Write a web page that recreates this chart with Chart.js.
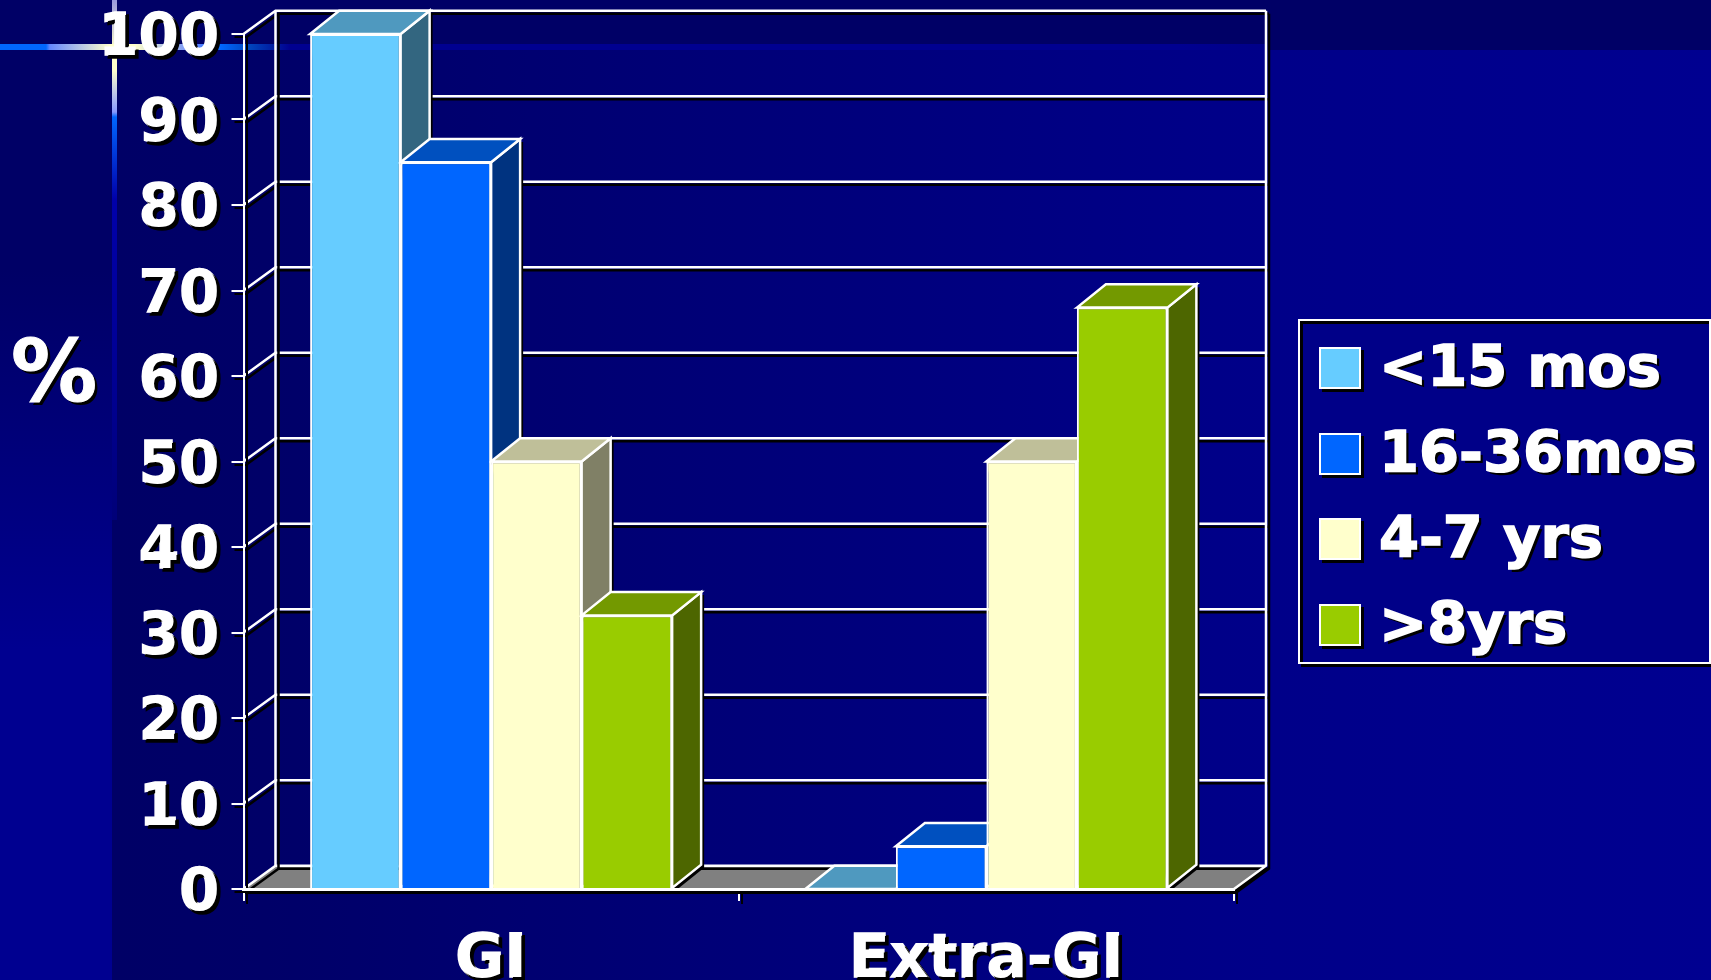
<!DOCTYPE html>
<html lang="en">
<head>
  <meta charset="UTF-8" />
  <title>GI / Extra-GI by age</title>
  <script src="https://cdn.jsdelivr.net/npm/chart.js"></script>
  <style>
    html, body { margin: 0; padding: 0; width: 1711px; height: 980px; overflow: hidden; background: #000066; }
    .capa { position: absolute; }
    #fondoDerecha { left: 115px; top: 50px; width: 1596px; height: 930px; background: linear-gradient(90deg, #000066 0, #000068 150px, #000088 1100px, #000090 100%); }
    #fondoIzquierda { left: 0; top: 50px; width: 112px; height: 930px; background: linear-gradient(180deg, #000066 0, #000066 220px, #000090 600px); }
    #lineaV { left: 112px; top: 0; width: 5px; height: 520px; background: linear-gradient(180deg, #9999dd 0, #ffffcc 50px, #ffffcc 70px, #8899ff 112px, #0066ff 117px, #0000aa 200px, #000090 400px, #000078 520px); }
    #lineaH { left: 0; top: 44px; width: 1266px; height: 6px; background: linear-gradient(90deg, #0066ff 0, #0066ff 46px, #6688ff 50px, #ffffcc 110px, #ffffcc 135px, #6688ff 195px, #0066ff 221px, #0044bb 250px, #000090 290px, #000090 1180px, #000088 1266px); }
    #grafico { position: absolute; left: 0; top: 0; }
    #ejeTitulo { position: absolute; left: 11px; top: 321px; font: bold 86px "DejaVu Sans", sans-serif; color: #fff; -webkit-text-stroke: 1px #fff; text-shadow: 3px 3px 0 #000; line-height: 100px; }
    #leyenda { position: absolute; left: 1298px; top: 319px; width: 409px; height: 341px; border: 2px solid #fff; background: #000088; box-shadow: 3px 3px 0 #000, inset 3px 3px 0 #000; }
    .muestra { position: absolute; left: 19px; width: 38px; height: 38px; border: 2px solid #fff; box-shadow: 3px 3px 0 #000; }
    .etiqueta { position: absolute; left: 79px; height: 70px; white-space: nowrap; font: bold 57.5px/70px "DejaVu Sans", sans-serif; color: #fff; -webkit-text-stroke: 1.5px #fff; text-shadow: 3px 3px 0 #000; }
  </style>
</head>
<body>
  <div class="capa" id="fondoDerecha"></div>
  <div class="capa" id="fondoIzquierda"></div>
  <div class="capa" id="lineaV"></div>
  <div class="capa" id="lineaH"></div>
  <canvas id="grafico" width="1711" height="980"></canvas>
  <div id="ejeTitulo">%</div>
  <div id="leyenda"></div>

  <script>
    const categorias = ["GI", "Extra-GI"];
    const nombres = ["<15 mos", "16-36mos", "4-7 yrs", ">8yrs"];
    const menor15 = [100, 0];
    const de16a36 = [85, 5];
    const de4a7 = [50, 50];
    const mayor8 = [32, 68];
    const marcasY = [0, 10, 20, 30, 40, 50, 60, 70, 80, 90, 100];

    const colorFrente = ["#66CCFF", "#0066FF", "#FFFFCC", "#99CC00"];
    const colorTapa = ["#4F99BF", "#0050BF", "#BFBF99", "#739900"];
    const colorLado = ["#336680", "#003380", "#808066", "#4D6600"];

    const fondoX = 32, fondoY = 23.3;   // profundidad de las paredes
    const barraX = 29, barraY = 23.3; // profundidad de cada barra

    function sombra(ctx, activa) {
      ctx.shadowColor = activa ? "#000" : "transparent";
      ctx.shadowOffsetX = activa ? 3 : 0;
      ctx.shadowOffsetY = activa ? 3 : 0;
      ctx.shadowBlur = 0;
    }

    function poligono(ctx, puntos) {
      ctx.beginPath();
      puntos.forEach((p, i) => i ? ctx.lineTo(p[0], p[1]) : ctx.moveTo(p[0], p[1]));
      ctx.closePath();
    }

    const efecto3D = {
      id: "efecto3D",
      beforeDraw(chart) {
        const { ctx, chartArea, scales } = chart;
        const izq = chartArea.left, der = chartArea.right;
        const y0 = scales.y.getPixelForValue(0), y100 = scales.y.getPixelForValue(100);

        ctx.save();
        sombra(ctx, true);
        ctx.strokeStyle = "#fff";
        ctx.lineWidth = 2.5;

        // piso
        ctx.fillStyle = "#808080";
        poligono(ctx, [[izq, y0], [izq + fondoX, y0 - fondoY], [der + fondoX, y0 - fondoY], [der, y0]]);
        ctx.fill();

        // rejilla de pared lateral y del fondo
        marcasY.forEach(v => {
          const y = scales.y.getPixelForValue(v);
          ctx.beginPath();
          ctx.moveTo(izq, y);
          ctx.lineTo(izq + fondoX, y - fondoY);
          ctx.lineTo(der + fondoX, y - fondoY);
          ctx.stroke();
        });
        ctx.beginPath();
        ctx.moveTo(izq + fondoX, y100 - fondoY);
        ctx.lineTo(izq + fondoX, y0 - fondoY);
        ctx.moveTo(der + fondoX, y100 - fondoY);
        ctx.lineTo(der + fondoX, y0 - fondoY);
        ctx.lineTo(der, y0);
        ctx.stroke();
        ctx.restore();

        // ejes y textos con sombra, se quita antes de las barras
        sombra(ctx, true);
      },
      beforeDatasetsDraw(chart) {
        const ctx = chart.ctx;
        sombra(ctx, false);
        // caras de arriba y de lado, de izquierda a derecha; los frentes los pinta Chart.js despues
        ctx.save();
        ctx.strokeStyle = "#fff";
        ctx.lineWidth = 2.5;
        chart.data.datasets.forEach((ds, i) => {
          chart.getDatasetMeta(i).data.forEach(el => {
            const l = el.x - el.width / 2, r = el.x + el.width / 2;
            const top = el.y, base = el.base;
            const tapa = [[l, top], [l + barraX, top - barraY], [r + barraX, top - barraY], [r, top]];
            const lado = [[r, top], [r + barraX, top - barraY], [r + barraX, base - barraY], [r, base]];

            // silueta con sombra
            sombra(ctx, true);
            ctx.fillStyle = colorLado[i];
            poligono(ctx, [[l, top], [l + barraX, top - barraY], [r + barraX, top - barraY], [r + barraX, base - barraY], [r, base]]);
            ctx.fill();
            sombra(ctx, false);

            ctx.fillStyle = colorLado[i];
            poligono(ctx, lado);
            ctx.fill();
            ctx.stroke();
            ctx.fillStyle = colorTapa[i];
            poligono(ctx, tapa);
            ctx.fill();
            ctx.stroke();
          });
        });
        ctx.restore();
      },
      afterDatasetsDraw(chart) {
        sombra(chart.ctx, true);
      },
      afterDraw(chart) {
        sombra(chart.ctx, false);
      }
    };

    function serie(nombre, valores, i) {
      return {
        label: nombre,
        data: valores,
        backgroundColor: colorFrente[i],
        borderColor: "#fff",
        borderWidth: 2
      };
    }

    new Chart(document.getElementById("grafico").getContext("2d"), {
      type: "bar",
      data: {
        labels: categorias,
        datasets: [
          serie(nombres[0], menor15, 0),
          serie(nombres[1], de16a36, 1),
          serie(nombres[2], de4a7, 2),
          serie(nombres[3], mayor8, 3)
        ]
      },
      options: {
        responsive: false,
        animation: false,
        layout: { padding: { top: 34, right: 477, bottom: 0, left: 0 } },
        datasets: { bar: { categoryPercentage: 0.731, barPercentage: 1 } },
        plugins: { legend: { display: false }, tooltip: { enabled: false } },
        scales: {
          x: {
            grid: { drawOnChartArea: false, drawTicks: true, tickLength: 12, color: "#fff", lineWidth: 2, offset: true },
            border: { display: true, color: "#fff", width: 3, z: 1 },
            ticks: {
              color: "#fff",
              font: { family: '"DejaVu Sans", sans-serif', size: 60, weight: "bold", lineHeight: 1 },
              textStrokeColor: "#fff",
              textStrokeWidth: 1.5,
              padding: 30,
              maxRotation: 0
            },
            afterFit(s) { s.height = 91; s.paddingLeft = 0; s.paddingRight = 0; }
          },
          y: {
            min: 0,
            max: 100,
            grid: { drawOnChartArea: false, drawTicks: true, tickLength: 12, color: "#fff", lineWidth: 2 },
            border: { display: true, color: "#fff", width: 2 },
            ticks: {
              stepSize: 10,
              color: "#fff",
              font: { family: '"DejaVu Sans", sans-serif', size: 58, weight: "bold", lineHeight: 1 },
              textStrokeColor: "#fff",
              textStrokeWidth: 1.5,
              padding: 12,
              labelOffset: 6
            },
            afterFit(s) { s.width = 243.5; s.paddingTop = 0; s.paddingBottom = 0; }
          }
        }
      },
      plugins: [efecto3D]
    });

    // leyenda
    const leyenda = document.getElementById("leyenda");
    nombres.forEach((nombre, i) => {
      const m = document.createElement("div");
      m.className = "muestra";
      m.style.top = (26 + i * 85.7) + "px";
      m.style.background = colorFrente[i];
      leyenda.appendChild(m);
      const t = document.createElement("div");
      t.className = "etiqueta";
      t.style.top = (11 + i * 85.7) + "px";
      t.textContent = nombre;
      leyenda.appendChild(t);
    });
  </script>
</body>
</html>
